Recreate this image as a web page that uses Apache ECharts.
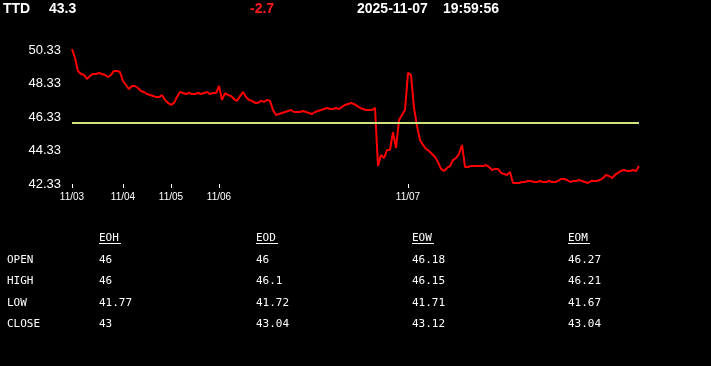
<!DOCTYPE html>
<html>
<head>
<meta charset="utf-8">
<script src="https://cdn.jsdelivr.net/npm/echarts@6/dist/echarts.min.js"></script>
<style>
html,body{margin:0;padding:0;background:#000;}
#chart{width:711px;height:366px;}
</style>
</head>
<body>
<div id="chart"></div>
<script>
// ---- data ----
const symbol = 'TTD';
const lastPrice = '43.3';
const change = '-2.7';
const dateText = '2025-11-07';
const timeText = '19:59:56';

const openLevel = 46;

const yTickLabels = [42.33, 44.33, 46.33, 48.33, 50.33];
const dayLabels = ['11/03', '11/04', '11/05', '11/06', '11/07'];
const dayStartIndex = [0, 17, 33, 49, 112];

const price = [
  50.39, 49.85, 49.08, 48.90, 48.84, 48.60, 48.78, 48.90, 48.90, 48.96,
  48.90, 48.84, 48.72, 48.84, 49.08, 49.08, 49.02, 48.48, 48.24, 48.00,
  48.18, 48.18, 48.06, 47.88, 47.82, 47.70, 47.64, 47.58, 47.52, 47.52,
  47.64, 47.35, 47.17, 47.05, 47.17, 47.52, 47.82, 47.76, 47.70, 47.76,
  47.70, 47.70, 47.76, 47.70, 47.76, 47.82, 47.70, 47.76, 47.76, 48.18,
  47.35, 47.76, 47.64, 47.58, 47.40, 47.29, 47.58, 47.82, 47.52, 47.35,
  47.29, 47.17, 47.17, 47.29, 47.23, 47.35, 47.29, 46.75, 46.45, 46.51,
  46.57, 46.63, 46.69, 46.75, 46.63, 46.63, 46.63, 46.69, 46.63, 46.57,
  46.51, 46.63, 46.69, 46.75, 46.81, 46.87, 46.81, 46.81, 46.87, 46.81,
  46.93, 47.05, 47.11, 47.17, 47.11, 46.99, 46.87, 46.81, 46.75, 46.75,
  46.75, 46.87, 43.40, 44.06, 43.88, 44.36, 44.36, 45.43, 44.48, 46.15,
  46.45, 46.75, 48.96, 48.84, 46.87, 45.79, 44.96, 44.66, 44.42, 44.30,
  44.12, 43.94, 43.64, 43.23, 43.11, 43.29, 43.40, 43.76, 43.88, 44.12,
  44.66, 43.35, 43.35, 43.40, 43.40, 43.40, 43.40, 43.40, 43.46, 43.35,
  43.17, 43.23, 43.23, 42.99, 42.93, 42.87, 43.05, 42.39, 42.39, 42.39,
  42.45, 42.45, 42.51, 42.51, 42.45, 42.45, 42.51, 42.45, 42.45, 42.51,
  42.45, 42.45, 42.51, 42.63, 42.63, 42.57, 42.45, 42.51, 42.51, 42.57,
  42.51, 42.45, 42.39, 42.51, 42.51, 42.51, 42.57, 42.69, 42.87, 42.81,
  42.69, 42.87, 42.99, 43.11, 43.17, 43.11, 43.11, 43.17, 43.11, 43.40
];

const rowNames = ['OPEN', 'HIGH', 'LOW', 'CLOSE'];
const colNames = ['EOH', 'EOD', 'EOW', 'EOM'];
const eohValues = ['46', '46', '41.77', '43'];
const eodValues = ['46', '46.1', '41.72', '43.04'];
const eowValues = ['46.18', '46.15', '41.71', '43.12'];
const eomValues = ['46.27', '46.21', '41.67', '43.04'];

// ---- layout ----
const colX = [99, 256, 412, 568];
const rowY = [260, 281, 303, 324];
const headerY = 238;
const monoFont = '11px "DejaVu Sans Mono", "Liberation Mono", monospace';
const headFont = 'bold 14px "Liberation Sans", Arial, sans-serif';

const colValues = [eohValues, eodValues, eowValues, eomValues];
const graphics = [];
function txt(x, y, text, font, fill) {
  graphics.push({ type: 'text', left: x, top: y, silent: true,
    style: { text: text, font: font, fill: fill, textVerticalAlign: 'middle', verticalAlign: 'middle' } });
}
function addText(x, y, text, font, fill) {
  graphics.push({ type: 'text', x: x, y: y, silent: true,
    style: { text: text, font: font, fill: fill, verticalAlign: 'middle', align: 'left' } });
}
addText(3, 9, symbol, headFont, '#fff');
addText(49, 9, lastPrice, headFont, '#fff');
addText(250, 9, change, headFont, '#ff1a1a');
addText(357, 9, dateText, headFont, '#fff');
addText(443, 9, timeText, headFont, '#fff');

colNames.forEach((c, ci) => {
  addText(colX[ci], headerY, c, monoFont, '#fff');
  graphics.push({ type: 'line', silent: true,
    shape: { x1: colX[ci], y1: headerY + 5.5, x2: colX[ci] + 22, y2: headerY + 5.5 },
    style: { stroke: '#fff', lineWidth: 1 } });
  colValues[ci].forEach((v, ri) => addText(colX[ci], rowY[ri], v, monoFont, '#fff'));
});
rowNames.forEach((r, ri) => addText(7, rowY[ri], r, monoFont, '#fff'));

const chart = echarts.init(document.getElementById('chart'), null, { renderer: 'canvas' });
chart.setOption({
  backgroundColor: '#000',
  animation: false,
  grid: { left: 72, right: 72, top: 50, bottom: 182 },
  xAxis: {
    type: 'category',
    boundaryGap: false,
    data: price.map((_, i) => String(i)),
    axisLine: { show: false },
    axisTick: {
      show: true, length: 4, lineStyle: { color: '#fff', width: 1 },
      interval: (idx) => dayStartIndex.indexOf(idx) >= 0
    },
    axisLabel: {
      color: '#fff', fontSize: 10, fontFamily: 'Liberation Sans, Arial, sans-serif',
      margin: 8,
      interval: (idx) => dayStartIndex.indexOf(idx) >= 0,
      formatter: (val, idx) => {
        const k = dayStartIndex.indexOf(Number(val));
        return k >= 0 ? dayLabels[k] : '';
      }
    },
    splitLine: { show: false }
  },
  yAxis: {
    type: 'value',
    min: yTickLabels[0],
    max: yTickLabels[yTickLabels.length - 1],
    axisLine: { show: false },
    axisTick: { show: false },
    splitLine: { show: false },
    axisLabel: {
      color: '#fff', fontSize: 13, fontFamily: 'Liberation Sans, Arial, sans-serif',
      margin: 11,
      customValues: yTickLabels,
      formatter: (v) => Number(v).toFixed(2)
    }
  },
  series: [{
    type: 'line',
    data: price,
    showSymbol: false,
    symbol: 'none',
    lineStyle: { color: '#ff0000', width: 2 },
    markLine: {
      silent: true,
      symbol: 'none',
      label: { show: false },
      lineStyle: { color: '#cfe27c', width: 2, type: 'solid' },
      data: [{ yAxis: openLevel }]
    }
  }],
  graphic: graphics
});
</script>
</body>
</html>
